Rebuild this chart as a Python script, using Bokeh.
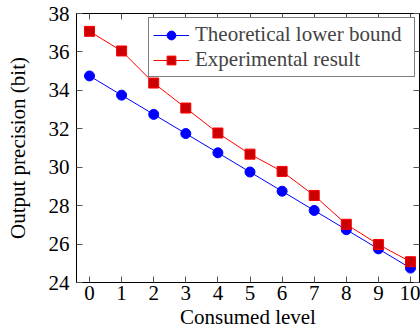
from bokeh.plotting import figure
from bokeh.models import LinearAxis, Range1d, Legend, LegendItem, FixedTicker, CustomLabelingPolicy
from bokeh.embed import file_html
from bokeh.resources import INLINE

levels = [0, 1, 2, 3, 4, 5, 6, 7, 8, 9, 10]
lower_bound = [34.75, 33.75, 32.75, 31.75, 30.75, 29.75, 28.75, 27.75, 26.75, 25.75, 24.75]
experimental = [37.07, 36.05, 34.38, 33.08, 31.78, 30.68, 29.78, 28.53, 27.03, 25.98, 25.08]
x_ticks = [0, 1, 2, 3, 4, 5, 6, 7, 8, 9, 10]
y_ticks = [24, 26, 28, 30, 32, 34, 36, 38]
series_names = ["Theoretical lower bound", "Experimental result"]

FONT = "Liberation Serif"
FS = "21px"

p = figure(width=420, height=331, output_backend="svg", toolbar_location=None,
           x_range=Range1d(-0.405, 10.28), y_range=Range1d(24, 38),
           min_border_left=76, min_border_right=1, min_border_top=13, min_border_bottom=49,
           x_axis_label="Consumed level", y_axis_label="Output precision (bit)")
p.grid.visible = False
p.outline_line_color = "black"
p.outline_line_width = 1
p.background_fill_color = "white"
p.border_fill_color = "white"

bottom_ax = p.xaxis[0]
left_ax = p.yaxis[0]
top_ax = LinearAxis()
right_ax = LinearAxis()
p.add_layout(top_ax, "above")
p.add_layout(right_ax, "right")

for ax in [bottom_ax, top_ax]:
    ax.ticker = FixedTicker(ticks=x_ticks)
for ax in [left_ax, right_ax]:
    ax.ticker = FixedTicker(ticks=y_ticks)

for ax in [bottom_ax, left_ax, top_ax, right_ax]:
    ax.major_tick_in = 6
    ax.major_tick_out = 0
    ax.minor_tick_in = 0
    ax.minor_tick_out = 0
    ax.major_tick_line_color = "#555555"
    ax.axis_line_color = "black"
    ax.major_label_text_font = FONT
    ax.major_label_text_font_size = FS
    ax.major_label_text_color = "black"
    ax.axis_label_text_font = FONT
    ax.axis_label_text_font_size = FS
    ax.axis_label_text_font_style = "normal"
    ax.axis_label_text_color = "black"

hide_all = CustomLabelingPolicy(code="return new indices.constructor(indices.size, 0)")
for ax in [top_ax, right_ax]:
    ax.major_label_policy = hide_all
    ax.major_label_text_font_size = "0px"
    ax.major_label_standoff = 0

bottom_ax.major_label_standoff = 3
bottom_ax.axis_label_standoff = 2
left_ax.major_label_standoff = 7
left_ax.axis_label_standoff = 16

l1 = p.line(levels, lower_bound, line_color="#0000ff", line_width=1)
s1 = p.scatter(levels, lower_bound, marker="circle", size=10, fill_color="#0000ff", line_color="#0000ff")
l2 = p.line(levels, experimental, line_color="#ff0000", line_width=1)
s2 = p.scatter(levels, experimental, marker="square", size=10, fill_color="#cc0000", line_color="#ff0000")

legend = Legend(items=[LegendItem(label=series_names[0], renderers=[l1, s1]),
                       LegendItem(label=series_names[1], renderers=[l2, s2])],
                location="top_right", margin=4, padding=4, spacing=-1,
                glyph_width=36, glyph_height=22, label_height=22, label_width=215,
                label_standoff=6,
                label_text_font=FONT, label_text_font_size=FS,
                border_line_color="black", border_line_width=1,
                background_fill_color="white", background_fill_alpha=1)
p.add_layout(legend)

open("out.html", "w").write(file_html(p, INLINE))
